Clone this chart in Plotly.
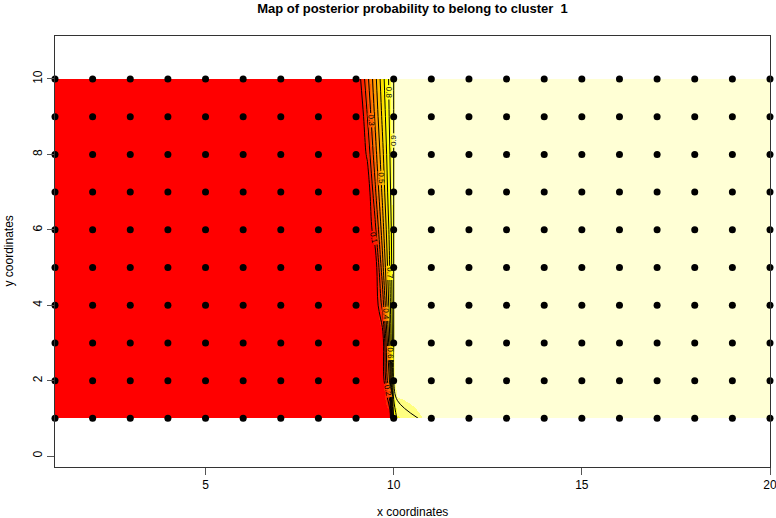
import plotly.graph_objects as go

# ---- data ----
grid_x = list(range(1, 21))          # sampled x coordinates
grid_y = list(range(1, 11))          # sampled y coordinates

map_x = [1, 9.1, 9.3, 9.5, 9.7, 9.9, 10.0, 10.1, 11, 20]
map_y = [1, 2, 3, 4, 5, 6, 7, 8, 9, 10]
# posterior probability to belong to cluster 1 (rows = map_y, cols = map_x)
prob = [
    [0, 0,     0,     0,     0,     0.00, 0.70, 0.82, 0.95, 0.99],  # y=1
    [0, 0,     0,     0,     0,     0.45, 0.90, 0.99, 0.99, 0.99],  # y=2
    [0, 0,     0,     0,     0.01,  0.60, 0.90, 0.99, 0.99, 0.99],  # y=3
    [0, 0,     0,     0,     0.23,  0.67, 0.90, 0.99, 0.99, 0.99],  # y=4
    [0, 0,     0,     0.01,  0.36,  0.71, 0.90, 0.99, 0.99, 0.99],  # y=5
    [0, 0,     0,     0.16,  0.45,  0.74, 0.90, 0.99, 0.99, 0.99],  # y=6
    [0, 0,     0.01,  0.27,  0.52,  0.78, 0.90, 0.99, 0.99, 0.99],  # y=7
    [0, 0,     0.12,  0.35,  0.57,  0.80, 0.90, 0.99, 0.99, 0.99],  # y=8
    [0, 0,     0.20,  0.41,  0.62,  0.82, 0.90, 0.99, 0.99, 0.99],  # y=9
    [0, 0.08,  0.27,  0.46,  0.66,  0.83, 0.90, 0.99, 0.99, 0.99],  # y=10
]

x_ticks = [5, 10, 15, 20]
y_ticks = [0, 2, 4, 6, 8, 10]

# R heat.colors(12)
heat = ["#FF0000", "#FF2000", "#FF4000", "#FF6000", "#FF8000", "#FF9F00",
        "#FFBF00", "#FFDF00", "#FFFF00", "#FFFF2B", "#FFFF80", "#FFFFD5"]
n = len(heat)
cscale = []
for i, c in enumerate(heat):
    cscale.append([i / n, c])
    cscale.append([(i + 1) / n, c])

pts_x = [x for y in grid_y for x in grid_x]
pts_y = [y for y in grid_y for x in grid_x]

fig = go.Figure()
fig.add_trace(go.Contour(
    x=map_x, y=map_y, z=prob,
    colorscale=cscale, zauto=False, zmin=0, zmax=1,
    showscale=False,
    contours=dict(coloring="heatmap", start=0.1, end=0.9, size=0.1,
                  showlabels=True,
                  labelfont=dict(size=8, color="#000000", family="Liberation Sans, Arial")),
    line=dict(color="#000000", width=1),
    hoverinfo="skip",
))
fig.add_trace(go.Scatter(
    x=pts_x, y=pts_y, mode="markers",
    marker=dict(color="#000000", size=7, symbol="circle"),
    cliponaxis=False, hoverinfo="skip",
))

axis_common = dict(
    showgrid=False, zeroline=False, showline=True, mirror=True,
    linecolor="#333333", linewidth=1, ticks="outside", ticklen=7,
    tickcolor="#555555", tickfont=dict(size=12, color="#000000"),
    ticklabeloverflow="allow", automargin=False,
)
fig.update_xaxes(range=[1, 20], tickvals=x_ticks, ticktext=[str(v) for v in x_ticks],
                 **axis_common)
fig.update_yaxes(range=[-0.29, 11.14], tickvals=y_ticks, tickangle=-90, **axis_common)

fig.update_layout(
    width=776, height=518,
    margin=dict(l=55, r=6, t=36, b=51),
    paper_bgcolor="white", plot_bgcolor="white",
    showlegend=False,
    font=dict(family="Liberation Sans, Arial, Helvetica", color="#000000"),
    title=dict(text="<b>Map of posterior probability to belong to cluster  1</b>",
               x=0.5, xref="paper", xanchor="center",
               y=1 - 8 / 518, yref="container", yanchor="middle",
               font=dict(size=13)),
    annotations=[
        dict(text="x coordinates", x=0.5, y=0, xref="paper", yref="paper",
             yshift=-45, showarrow=False, yanchor="middle", font=dict(size=12)),
        dict(text="y coordinates", x=0, y=0.5, xref="paper", yref="paper",
             xshift=-47, showarrow=False, textangle=-90, xanchor="center",
             font=dict(size=12)),
    ],
)

fig.write_html("out.html", config={"displayModeBar": False},
               post_script="document.body.style.margin='0';document.body.style.overflow='hidden';")
